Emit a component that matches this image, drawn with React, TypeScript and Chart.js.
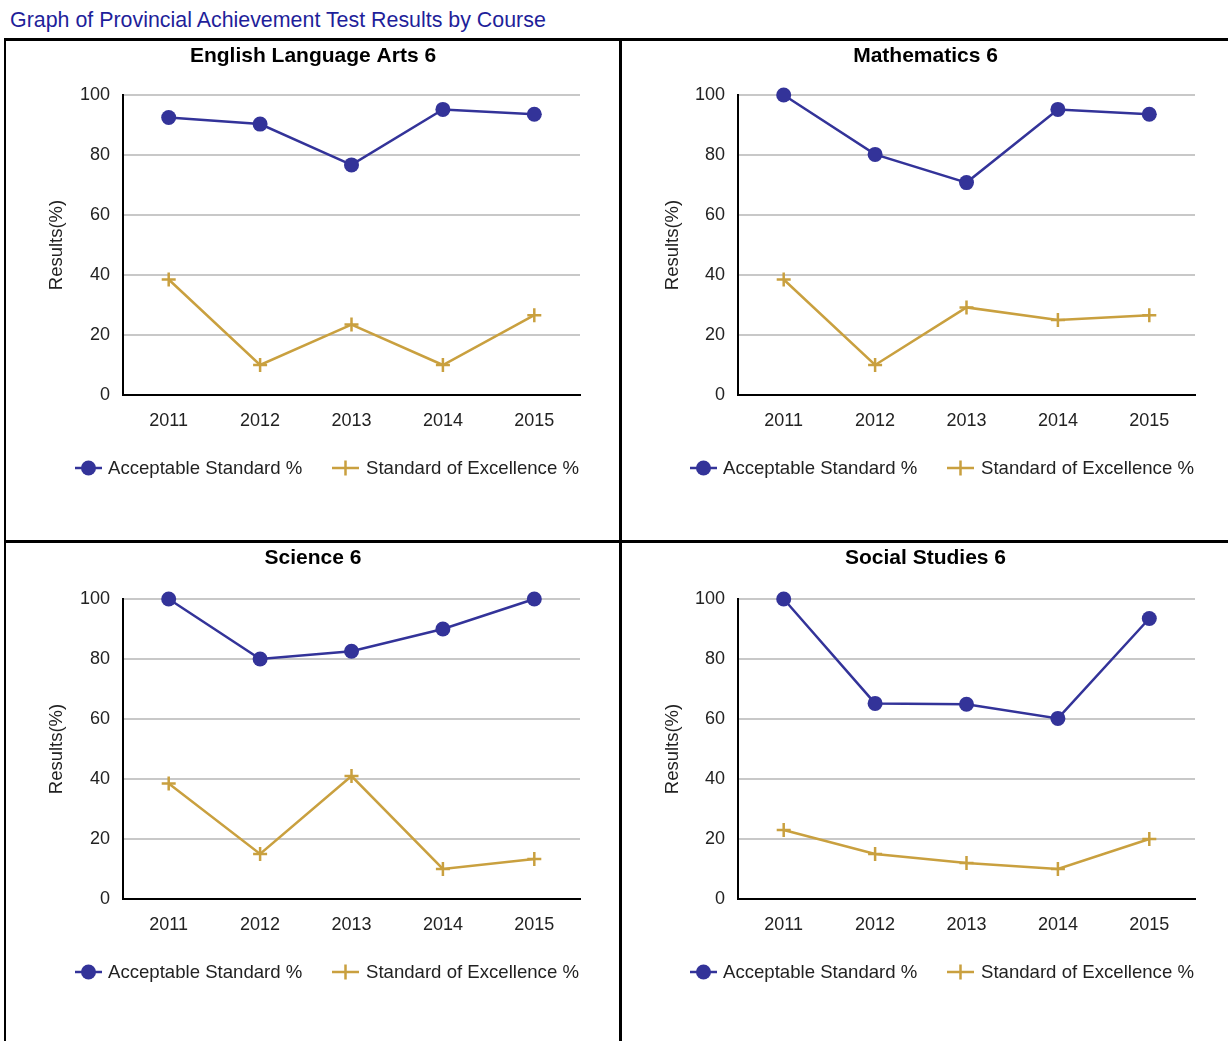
import React, { useEffect, useRef } from "react";
import { Chart, registerables } from "chart.js";

Chart.register(...registerables);

const pageTitle = "Graph of Provincial Achievement Test Results by Course";
const years = ["2011", "2012", "2013", "2014", "2015"];
const courses = ["English Language Arts 6", "Mathematics 6", "Science 6", "Social Studies 6"];
const seriesNames = ["Acceptable Standard %", "Standard of Excellence %"];
const yTicks = [0, 20, 40, 60, 80, 100];
const yAxisTitle = "Results(%)";

const elaAcceptable = [92.5, 90.3, 76.7, 95.2, 93.6];
const elaExcellence = [38.5, 10, 23.5, 10, 26.6];
const mathAcceptable = [100, 80.2, 70.8, 95.2, 93.6];
const mathExcellence = [38.5, 10, 29.2, 25, 26.6];
const sciAcceptable = [100, 80, 82.6, 90, 100];
const sciExcellence = [38.5, 15, 41, 10, 13.3];
const socAcceptable = [100, 65.2, 64.9, 60.2, 93.5];
const socExcellence = [23, 15, 12, 10, 20];

const acceptableSeries = [elaAcceptable, mathAcceptable, sciAcceptable, socAcceptable];
const excellenceSeries = [elaExcellence, mathExcellence, sciExcellence, socExcellence];

const BLUE = "#333399";
const GOLD = "#C9A03F";
const FONT = "'Liberation Sans', Arial, Helvetica, sans-serif";

// page-level panel rectangles: canvas box + plot area box
const panels = [
  { x: 6, y: 41, w: 613, h: 499, aL: 123, aR: 580, aT: 95, aB: 395 },
  { x: 622, y: 41, w: 606, h: 499, aL: 738, aR: 1195, aT: 95, aB: 395 },
  { x: 6, y: 543, w: 613, h: 498, aL: 123, aR: 580, aT: 599, aB: 899 },
  { x: 622, y: 543, w: 606, h: 498, aL: 738, aR: 1195, aT: 599, aB: 899 },
];

const decorPlugin = {
  id: "panelDecor",
  afterDraw(chart: any) {
    const o = chart.options.plugins.panelDecor || {};
    const ctx = chart.ctx;
    const w = chart.width;
    ctx.save();
    // chart title
    ctx.fillStyle = "#000";
    ctx.font = `bold 21px ${FONT}`;
    ctx.textAlign = "center";
    ctx.textBaseline = "middle";
    ctx.fillText(o.title || "", w / 2 + 0.5, 15);
    // legend
    const ly = o.legendY;
    const x0 = chart.chartArea.left - 48;
    ctx.font = `18.6px ${FONT}`;
    ctx.textAlign = "left";
    ctx.fillStyle = "#222";
    // item 1
    ctx.strokeStyle = BLUE;
    ctx.lineWidth = 2.5;
    ctx.beginPath();
    ctx.moveTo(x0, ly);
    ctx.lineTo(x0 + 27, ly);
    ctx.stroke();
    ctx.fillStyle = BLUE;
    ctx.beginPath();
    ctx.arc(x0 + 13.5, ly, 7.5, 0, Math.PI * 2);
    ctx.fill();
    ctx.fillStyle = "#222";
    ctx.fillText(seriesNames[0], x0 + 33, ly + 1);
    // item 2
    const x1 = x0 + 257;
    ctx.strokeStyle = GOLD;
    ctx.lineWidth = 2.5;
    ctx.beginPath();
    ctx.moveTo(x1, ly);
    ctx.lineTo(x1 + 27, ly);
    ctx.moveTo(x1 + 13.5, ly - 7.5);
    ctx.lineTo(x1 + 13.5, ly + 7.5);
    ctx.stroke();
    ctx.fillStyle = "#222";
    ctx.fillText(seriesNames[1], x1 + 34, ly + 1);
    ctx.restore();
  },
};

function Panel({ idx }: { idx: number }) {
  const ref = useRef<HTMLCanvasElement | null>(null);
  const p = panels[idx];
  useEffect(() => {
    if (!ref.current) return;
    const areaLeft = p.aL - p.x;
    const areaTop = p.aT - p.y;
    const areaRight = p.w - (p.aR - p.x);
    const areaBottom = p.aB - p.y;
    const xAxisH = 40;
    const chart = new Chart(ref.current, {
      type: "line",
      data: {
        labels: years,
        datasets: [
          {
            label: seriesNames[0],
            data: acceptableSeries[idx],
            borderColor: BLUE,
            backgroundColor: BLUE,
            borderWidth: 2.5,
            pointStyle: "circle",
            pointRadius: 7.5,
            pointBorderWidth: 0,
            pointBackgroundColor: BLUE,
            tension: 0,
            clip: false,
          } as any,
          {
            label: seriesNames[1],
            data: excellenceSeries[idx],
            borderColor: GOLD,
            backgroundColor: GOLD,
            borderWidth: 2.5,
            pointStyle: "cross",
            pointRadius: 7,
            pointBorderWidth: 2.5,
            pointBorderColor: GOLD,
            tension: 0,
            clip: false,
          } as any,
        ],
      },
      options: {
        animation: false,
        responsive: false,
        maintainAspectRatio: false,
        events: [],
        layout: {
          padding: {
            top: areaTop,
            left: 0,
            right: areaRight,
            bottom: p.h - areaBottom - xAxisH,
          },
        },
        plugins: {
          legend: { display: false },
          title: { display: false },
          tooltip: { enabled: false },
          panelDecor: { title: courses[idx], legendY: areaBottom + 73 },
        } as any,
        scales: {
          x: {
            type: "category",
            offset: true,
            grid: { display: false, drawTicks: false },
            border: { display: true, color: "#000", width: 2 },
            ticks: {
              color: "#222",
              font: { family: FONT, size: 18 },
              padding: 15,
              maxRotation: 0,
              autoSkip: false,
            },
            afterFit: (s: any) => {
              s.height = xAxisH;
            },
          },
          y: {
            min: 0,
            max: 100,
            afterBuildTicks: (s: any) => {
              s.ticks = yTicks.map((v) => ({ value: v }));
            },
            grid: { color: "#c8c8c8", lineWidth: 2, drawTicks: false },
            border: { display: true, color: "#000", width: 2 },
            ticks: {
              color: "#222",
              font: { family: FONT, size: 18 },
              padding: 13,
            },
            title: {
              display: true,
              text: yAxisTitle,
              color: "#222",
              font: { family: FONT, size: 18.5 },
              padding: { top: 40, bottom: 0 },
            },
            afterFit: (s: any) => {
              s.width = areaLeft;
            },
          },
        },
      } as any,
      plugins: [decorPlugin],
    });
    return () => chart.destroy();
  }, [idx]);
  return (
    <canvas
      ref={ref}
      width={p.w}
      height={p.h}
      style={{ position: "absolute", left: p.x, top: p.y, width: p.w, height: p.h }}
    />
  );
}

export default function App() {
  const line = (l: number, t: number, w: number, h: number, key: string) => (
    <div key={key} style={{ position: "absolute", left: l, top: t, width: w, height: h, background: "#000" }} />
  );
  return (
    <div
      style={{
        position: "fixed",
        left: 0,
        top: 0,
        width: 1228,
        height: 1041,
        background: "#fff",
        overflow: "hidden",
        fontFamily: FONT,
      }}
    >
      <div
        style={{
          position: "absolute",
          left: 10,
          top: 8,
          fontSize: 21.4,
          lineHeight: "24px",
          color: "#1f1f9a",
          whiteSpace: "nowrap",
        }}
      >
        {pageTitle}
      </div>
      {line(4, 38, 1224, 3, "top")}
      {line(4, 38, 2, 1003, "left")}
      {line(619, 38, 3, 1003, "vdiv")}
      {line(4, 540, 1224, 3, "hdiv")}
      {[0, 1, 2, 3].map((i) => (
        <Panel key={i} idx={i} />
      ))}
    </div>
  );
}
